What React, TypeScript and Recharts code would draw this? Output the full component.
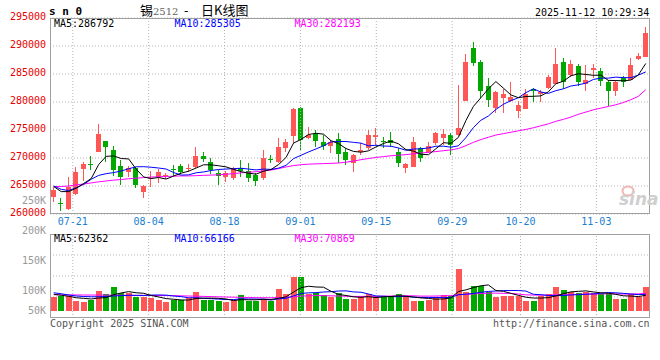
import React from 'react';
import { ComposedChart, Bar, Line, XAxis, YAxis, CartesianGrid, ReferenceLine } from 'recharts';

const dates = [
  '07-16','07-17','07-18','07-21','07-22','07-23','07-24','07-25','07-28','07-29','07-30','07-31',
  '08-01','08-04','08-05','08-06','08-07','08-08','08-11','08-12','08-13','08-14','08-15','08-18','08-19','08-20','08-21','08-22','08-25','08-26','08-27','08-28','08-29',
  '09-01','09-02','09-03','09-04','09-05','09-08','09-09','09-10','09-11','09-12','09-15','09-16','09-17','09-18','09-19','09-22','09-23','09-24','09-25','09-26','09-29','09-30',
  '10-09','10-10','10-13','10-14','10-15','10-16','10-17','10-20','10-21','10-22','10-23','10-24','10-27','10-28','10-29','10-30','10-31',
  '11-03','11-04','11-05','11-06','11-07','11-10','11-11','11-12',
];

const openPrice = [
  263090,261900,260890,263520,268040,268900,271130,273040,271430,268570,
  267450,268160,263980,266250,266550,266800,268100,268570,268200,268340,
  270360,269340,267380,266550,266370,268160,267740,266960,266370,269880,
  269340,271840,273980,278980,273520,274230,272910,272200,273390,271130,
  269050,271130,271730,273810,273000,273210,271130,268270,268450,271840,
  271130,272620,273510,274110,274110,280180,289700,287200,282910,278980,
  280660,280180,278450,278750,282320,281430,282550,283160,287090,284820,
  286430,283210,285710,285540,283520,282020,284230,283930,287620,288090,
];
const highPrice = [
  264880,262910,266550,268450,269290,270360,276070,273100,272140,269640,
  268570,268450,265180,267600,267980,267400,268750,268930,268870,272020,
  271130,269940,267860,267680,268450,269640,269160,267260,271430,270540,
  273630,273390,278980,279160,275590,275000,274110,273210,274410,271840,
  270660,272740,275000,275300,273810,274580,271730,269050,273810,272020,
  272910,274700,275180,274410,283040,288520,290770,287500,284340,281960,
  282320,283520,280180,282320,282440,282140,284820,289700,287910,287500,
  286790,286610,286730,286010,283930,283930,284640,287910,288700,293450,
];
const lowPrice = [
  262090,260590,260710,263390,265890,267860,271070,269230,266790,265180,
  266660,264700,262910,264900,265480,266250,266850,267100,267550,268160,
  269340,267140,265180,265770,266070,266660,265770,265060,266070,269050,
  269050,271130,272620,271430,273390,272020,271430,270840,269050,268750,
  267560,270540,271430,272320,271730,272020,268450,267260,268450,269340,
  270840,272320,272320,270540,273990,280180,286500,280660,279160,277980,
  278090,280060,277200,278750,279940,279940,282320,283160,282320,284520,
  282860,282020,284340,282910,279340,281130,282730,283930,287500,288090,
];
const closePrice = [
  264290,261700,264770,267550,268930,268700,274290,272020,267860,266660,
  268300,265230,265000,266500,267550,266900,267950,267550,268300,270360,
  269770,267860,266790,267260,268160,267740,266480,265940,269940,269700,
  272020,272910,278750,273210,274110,273090,272140,272910,270660,269640,
  270540,271430,274110,274110,272800,272620,269050,268870,272800,270060,
  272140,274410,274230,272320,275300,287200,287000,281960,280360,281730,
  281370,280950,279460,281370,281960,281730,284520,286730,283630,286730,
  283630,283870,286010,283750,282020,283520,283630,286610,288270,292380,
];
const volume = [
  56000,58800,58800,38800,36000,42800,78800,66800,96000,72000,
  69200,56000,56000,52000,42800,36000,42800,42800,49200,74800,
  42800,42800,38800,36000,42800,62800,38800,38800,46800,38800,
  86800,66800,134800,134800,66800,72000,62800,53200,72000,45200,
  45200,53200,66800,53200,58800,53200,66800,58800,38800,38800,
  42800,53200,62800,58800,166800,76000,98800,98800,76000,56000,
  58800,58800,58800,38800,38800,58800,66800,93200,82800,76000,
  69200,76000,72000,66800,66800,46800,46800,66800,56000,93200,
];
const priceMA5 = [
  264900,264000,264000,264600,265450,266330,268850,270300,270360,269910,
  269830,268010,266610,266340,266520,266240,266780,267290,267650,268210,
  268790,268770,268620,268410,267970,267560,267290,267120,267650,267960,
  268820,270100,272660,273320,274200,274410,274260,273090,272580,271690,
  271180,271040,271280,271970,272600,273010,272540,271490,271230,270680,
  270580,271660,272730,272630,273680,276690,279210,280760,282360,283650,
  282480,281270,280770,280980,281020,281090,281810,283260,283710,284670,
  285050,284920,284770,284800,283860,283830,283790,283910,284810,286880,
];
const priceMA10 = [
  265000,264400,264200,264700,265300,266200,266900,267200,267400,267680,
  268080,268430,268450,268350,268210,268030,267400,266950,266990,267360,
  267510,267770,267950,268030,268090,268170,268030,267870,268030,267960,
  268190,268690,269890,270490,271080,271620,272180,272880,272950,272940,
  272800,272650,272180,272270,272140,272100,271790,271380,271600,271640,
  271800,272100,272110,271930,272180,273640,275430,276740,277500,278670,
  279590,280240,280770,281670,282340,281790,281540,282020,282350,282850,
  283070,283360,284020,284260,284260,284440,284350,284340,284800,285370,
];
const priceMA30 = [
  264900,264900,265000,265200,265350,265550,265750,265900,266050,266150,
  266300,266400,266500,266600,266650,266700,266750,266800,266800,266850,
  266900,266950,267000,267100,267200,267350,267450,267550,267700,267850,
  268100,268400,268650,268800,268900,268950,269000,269050,269100,269250,
  269450,269700,269900,270100,270250,270400,270500,270600,270750,270900,
  271000,271150,271300,271450,271700,272200,272800,273300,273700,274100,
  274350,274600,274850,275100,275400,275750,276100,276550,276900,277300,
  277800,278200,278600,278900,279200,279500,279900,280400,281000,282190,
];
const volMA5 = [
  66000,62000,58000,52000,49680,47040,51040,52640,64080,71280,
  76560,72000,69840,61040,55200,48560,45920,43280,42720,49120,
  50480,50480,49680,47040,40640,44640,43840,43840,46000,45200,
  50000,55600,74800,92400,98000,95040,94240,77920,65360,61040,
  55680,53760,56480,52720,55440,57040,59760,58160,55280,51280,
  49200,46480,47280,51280,76880,83520,92640,99840,103280,81120,
  77680,69680,61680,54240,50800,50800,52400,59280,68080,75520,
  77600,79440,75200,72000,70160,65680,59840,58800,56640,61920,
];
const volMA10 = [
  72000,68000,63000,59000,57000,56000,56000,57000,59000,60480,
  61800,61520,61240,62560,63240,62560,58960,56560,51880,52160,
  49520,48200,46480,44880,44880,47560,47160,46760,46520,42920,
  47320,49720,59320,69200,71600,72520,74920,76360,78880,79520,
  75360,74000,67200,59040,58240,56360,56760,57320,54000,53360,
  53120,53120,52720,53280,64080,66360,69560,73560,77280,79000,
  80600,81160,80760,78760,65960,64240,61040,60480,61160,63160,
  64200,65920,67240,70040,72840,71640,69640,67000,64320,66040,
];
const volMA30 = [
  64000,63800,63500,63200,63000,62800,62600,62400,62200,62000,
  61800,61600,61400,61200,61000,60600,60200,59600,59000,58200,
  57400,56600,55800,55000,54300,53600,53000,52400,52000,51820,
  52850,53110,55650,58850,59870,60850,60310,59860,59060,58170,
  57370,57270,57630,57670,58210,58780,59580,60110,59770,58570,
  58570,58910,59710,60470,64610,65050,67050,69050,70020,70590,
  69660,69390,66860,63660,62730,62290,62420,63750,64110,65140,
  65940,66700,66870,67330,67590,67380,66710,66980,67550,69370,
];
const tickDates = ['07-21', '08-04', '08-18', '09-01', '09-15', '09-29', '10-20', '11-03'];
const priceTicks = [260000, 265000, 270000, 275000, 280000, 285000, 290000, 295000];
const volAxisLabels = ['250K', '200K', '150K', '100K', '50K'];

const RED = '#ff5656';
const GREEN = '#00a800';
const GRID = '#b4b4b4';
const FRAME = '#a0a0a0';
const MONO = '"DejaVu Sans Mono", monospace';
const DATE_BASELINE = 225;

const rows = dates.map((date, i) => ({
  date,
  idx: i,
  open: openPrice[i],
  high: highPrice[i],
  low: lowPrice[i],
  close: closePrice[i],
  range: [lowPrice[i], highPrice[i]],
  vol: volume[i],
  ma5: priceMA5[i],
  ma10: priceMA10[i],
  ma30: priceMA30[i],
  vma5: volMA5[i],
  vma10: volMA10[i],
  vma30: volMA30[i],
}));
const tickIdx = tickDates.map((d) => dates.indexOf(d));

function Candle(props: any) {
  const { x, y, width, height, payload } = props;
  if (!payload || x == null) return null;
  const { open, close, high, low } = payload;
  const color = close >= open ? RED : GREEN;
  const k = high > low ? height / (high - low) : 0;
  const py = (v: number) => y + (high - v) * k;
  const left = Math.round(x);
  const w = Math.max(1, Math.round(width));
  const mid = left + Math.floor(w / 2);
  const top = Math.round(py(Math.max(open, close)));
  const bot = Math.round(py(Math.min(open, close)));
  const wt = Math.round(py(high));
  const wb = Math.round(py(low));
  return (
    <g>
      <rect x={mid} y={wt} width={1} height={Math.max(1, wb - wt)} fill={color} />
      <rect x={left} y={top} width={w} height={Math.max(1, bot - top)} fill={color} />
    </g>
  );
}

function VolBar(props: any) {
  const { x, y, width, height, payload } = props;
  if (!payload || x == null) return null;
  const color = payload.close >= payload.open ? RED : GREEN;
  const top = Math.round(y);
  const bot = Math.round(y + height);
  return <rect x={Math.round(x)} y={top} width={Math.round(width)} height={Math.max(0, bot - top)} fill={color} />;
}

function PriceTick(props: any) {
  const { x, y, payload } = props;
  return (
    <text x={x} y={y + 2} textAnchor="end" fill="#e60000" fontSize={10} fontFamily={MONO}>
      {payload.value}
    </text>
  );
}

function DateTick(props: any) {
  const { x, payload } = props;
  return (
    <text x={x} y={DATE_BASELINE} textAnchor="middle" fill="#1a80d0" fontSize={10} fontFamily={MONO}>
      {dates[payload.value]}
    </text>
  );
}

export default function App() {
  const lineProps = { xAxisId: 'cat', dot: false, activeDot: false, strokeWidth: 1, isAnimationActive: false, type: 'linear' as const };
  return (
    <div style={{ position: 'absolute', left: 0, top: 0, width: 660, height: 360, background: '#fff', overflow: 'hidden' }}>
      <div style={{ position: 'absolute', left: 0, top: 0 }}>
        <ComposedChart width={660} height={230} data={rows} margin={{ top: 18, right: 10.5, bottom: 0, left: 0 }}>
          <CartesianGrid vertical={false} xAxisId="idx" stroke={GRID} strokeDasharray="1 2" />
          <XAxis xAxisId="cat" dataKey="date" hide />
          <XAxis
            xAxisId="idx"
            type="number"
            dataKey="idx"
            domain={[0, dates.length - 1]}
            ticks={tickIdx}
            interval={0}
            tickLine={false}
            axisLine={false}
            tickSize={0}
            tickMargin={0}
            height={16}
            tick={DateTick}
            allowDataOverflow
          />
          <YAxis
            domain={[260000, 295000]}
            ticks={priceTicks}
            interval={0}
            width={50}
            tickLine={false}
            axisLine={false}
            tickSize={0}
            tickMargin={4}
            tick={PriceTick}
            allowDataOverflow
          />
          {tickIdx.map((i) => (
            <ReferenceLine key={i} xAxisId="idx" x={i} stroke={GRID} strokeDasharray="1 2" />
          ))}
          <Bar xAxisId="cat" dataKey="range" barSize={5} shape={Candle} isAnimationActive={false} />
          <Line {...lineProps} dataKey="ma30" stroke="#ff00ff" />
          <Line {...lineProps} dataKey="ma10" stroke="#0000ff" />
          <Line {...lineProps} dataKey="ma5" stroke="#000000" />
        </ComposedChart>
      </div>
      <div style={{ position: 'absolute', left: 0, top: 234 }}>
        <ComposedChart width={660} height={84} data={rows} margin={{ top: 0, right: 10.5, bottom: 0, left: 50 }}>
          <CartesianGrid
            vertical={false}
            xAxisId="idx"
            stroke={GRID}
            strokeDasharray="1 2"
            horizontalCoordinatesGenerator={(p: any) => [1, 2, 3].map((k) => p.offset.top + (p.offset.height * k) / 4)}
          />
          <XAxis xAxisId="cat" dataKey="date" hide />
          <XAxis xAxisId="idx" type="number" dataKey="idx" domain={[0, dates.length - 1]} hide allowDataOverflow />
          <YAxis domain={[-29000, 307000]} hide allowDataOverflow />
          {tickIdx.map((i) => (
            <ReferenceLine key={i} xAxisId="idx" x={i} stroke={GRID} strokeDasharray="1 2" />
          ))}
          <Bar xAxisId="cat" dataKey="vol" barSize={6} shape={VolBar} isAnimationActive={false} />
          <Line {...lineProps} dataKey="vma30" stroke="#ff00ff" />
          <Line {...lineProps} dataKey="vma10" stroke="#0000ff" />
          <Line {...lineProps} dataKey="vma5" stroke="#000000" />
        </ComposedChart>
      </div>
      <svg width={660} height={360} style={{ position: 'absolute', left: 0, top: 0, pointerEvents: 'none' }}>
        <rect x={50.5} y={18.5} width={599} height={195} fill="none" stroke={FRAME} strokeWidth={1} />
        <rect x={50.5} y={234.5} width={599} height={83} fill="none" stroke={FRAME} strokeWidth={1} />
        <text x={49} y={15} fontSize={11} fontWeight="bold" fontFamily={MONO} fill="#000">s n 0</text>
        <text x={140} y={15} fontSize={13} fontFamily='"Noto Sans CJK SC", sans-serif' fill="#000">锡</text>
        <text x={153} y={15} fontSize={10} fontFamily='"DejaVu Serif", serif' fill="#666">2512</text>
        <text x={184} y={15} fontSize={13} fontFamily='"Noto Sans CJK SC", sans-serif' fill="#000">-</text>
        <text x={201} y={15} fontSize={13} fontFamily='"Noto Sans CJK SC", sans-serif' fill="#000">日K线图</text>
        <text x={535} y={15.5} fontSize={10} fontFamily={MONO} fill="#000">2025-11-12 10:29:34</text>
        <text x={54} y={26.5} fontSize={10} fontFamily={MONO} fill="#000">MA5:286792</text>
        <text x={174.5} y={26.5} fontSize={10} fontFamily={MONO} fill="#0000ff">MA10:285305</text>
        <text x={294.5} y={26.5} fontSize={10} fontFamily={MONO} fill="#ff00ff">MA30:282193</text>
        <text x={54} y={241.5} fontSize={10} fontFamily={MONO} fill="#000">MA5:62362</text>
        <text x={174.5} y={241.5} fontSize={10} fontFamily={MONO} fill="#0000ff">MA10:66166</text>
        <text x={294.5} y={241.5} fontSize={10} fontFamily={MONO} fill="#ff00ff">MA30:70869</text>
        {volAxisLabels.map((t, k) => (
          <text key={t} x={46} y={[204, 234, 264, 294, 314][k]} textAnchor="end" fontSize={10} fontFamily={MONO} fill="#999">{t}</text>
        ))}
        <text x={50} y={326.5} fontSize={10} fontFamily={MONO} fill="#555">Copyright 2025 SINA.COM</text>
        <text x={649.5} y={326.5} textAnchor="end" fontSize={10} fontFamily={MONO} fill="#555">http://finance.sina.com.cn</text>
        <ellipse cx={628} cy={191} rx={5.5} ry={4.5} fill="none" stroke="#f3b4b4" strokeWidth={2} />
        <text x={619} y={205} fontSize={17} fontStyle="italic" fontWeight="bold" fontFamily='"DejaVu Sans", sans-serif' fill="#cfcfcf">sina</text>
      </svg>
    </div>
  );
}
